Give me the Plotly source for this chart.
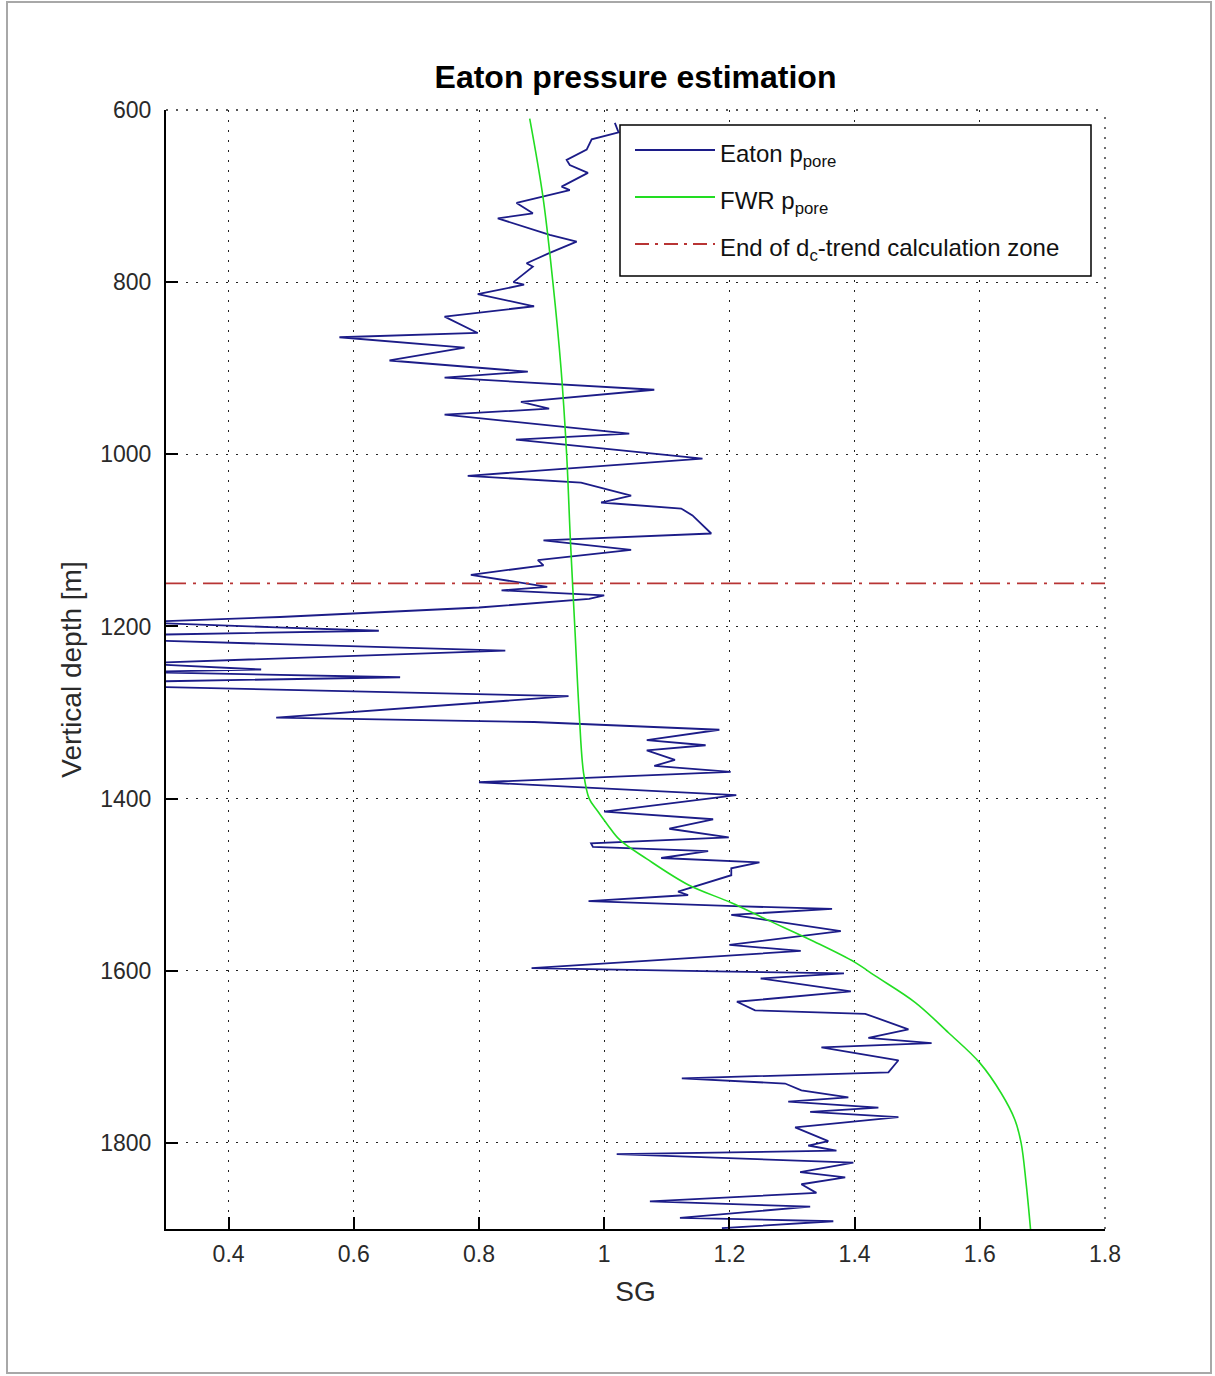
import plotly.graph_objects as go

# ---------------- data ----------------
eaton_depth = [615, 626, 634, 646, 658, 664, 673, 689, 693, 701, 708, 720, 726, 745, 753, 766, 778, 782, 800, 803,
               814, 828, 840, 859, 864, 876, 891, 904, 911, 925, 939, 947, 954, 976, 983, 1005, 1025, 1033, 1048,
               1056, 1063, 1071, 1092, 1100, 1111, 1123, 1129, 1140, 1154, 1158, 1164, 1168, 1178, 1189, 1195,
               1201, 1205, 1210, 1216, 1228, 1243, 1250, 1253, 1259, 1264, 1270, 1281, 1306, 1311, 1320, 1332,
               1338, 1344, 1355, 1362, 1369, 1381, 1396, 1415, 1424, 1435, 1445, 1452, 1456, 1461, 1469, 1474,
               1481, 1489, 1508, 1512, 1519, 1525, 1528, 1535, 1554, 1570, 1577, 1597, 1601, 1603, 1609, 1624,
               1636, 1646, 1650, 1668, 1678, 1684, 1689, 1704, 1718, 1725, 1731, 1739, 1747, 1752, 1759, 1764,
               1770, 1782, 1798, 1803, 1809, 1813, 1823, 1834, 1840, 1848, 1858, 1868, 1874, 1887, 1891, 1899]
eaton_sg = [1.017, 1.023, 0.980, 0.972, 0.940, 0.945, 0.974, 0.932, 0.945, 0.902, 0.860, 0.886, 0.830, 0.913, 0.956,
            0.913, 0.876, 0.886, 0.855, 0.872,
            0.798, 0.888, 0.745, 0.798, 0.577, 0.777, 0.657, 0.878, 0.745, 1.080, 0.867, 0.912, 0.745, 1.040, 0.859,
            1.157, 0.782, 0.963, 1.043,
            0.995, 1.123, 1.141, 1.171, 0.903, 1.043, 0.894, 0.903, 0.787, 0.909, 0.836, 1.000, 0.976, 0.800,
            0.482, 0.250,
            0.476, 0.640, 0.250, 0.260, 0.842, 0.250, 0.452, 0.250, 0.674, 0.270, 0.270, 0.943, 0.476, 0.888,
            1.184, 1.068,
            1.162, 1.068, 1.113, 1.080, 1.202, 0.800, 1.211, 1.000, 1.174, 1.104, 1.199, 0.979, 0.982, 1.166,
            1.091, 1.248,
            1.203, 1.203, 1.118, 1.134, 0.975, 1.208, 1.364, 1.203, 1.378, 1.200, 1.314, 0.884, 1.203, 1.383,
            1.250, 1.394,
            1.212, 1.241, 1.417, 1.486, 1.422, 1.523, 1.347, 1.470, 1.454, 1.124, 1.289, 1.315, 1.390, 1.294,
            1.438, 1.329,
            1.470, 1.305, 1.358, 1.326, 1.371, 1.020, 1.398, 1.313, 1.385, 1.315, 1.339, 1.073, 1.329, 1.121,
            1.366, 1.188]

fwr_depth = [610, 700, 800, 900, 1000, 1100, 1200, 1300, 1370, 1400, 1415, 1430, 1448, 1470, 1500, 1521, 1540,
             1566, 1590, 1606, 1637, 1672, 1707, 1742, 1773, 1800, 1847, 1900]
fwr_sg = [0.881, 0.902, 0.918, 0.931, 0.940, 0.946, 0.953, 0.960, 0.967, 0.976, 0.990, 1.005, 1.025, 1.068, 1.134,
          1.203, 1.258, 1.335, 1.400, 1.433, 1.497, 1.550, 1.600, 1.634, 1.656, 1.666, 1.674, 1.681]

dc_trend_end_depth = 1150
sg_range = [0.3, 1.8]
depth_range = [600, 1900]

x_ticks = [0.4, 0.6, 0.8, 1.0, 1.2, 1.4, 1.6, 1.8]
x_tick_labels = ["0.4", "0.6", "0.8", "1", "1.2", "1.4", "1.6", "1.8"]
y_ticks = [600, 800, 1000, 1200, 1400, 1600, 1800]
y_tick_labels = ["600", "800", "1000", "1200", "1400", "1600", "1800"]

legend_labels = ["Eaton p<sub>pore</sub>", "FWR p<sub>pore</sub>", "End of d<sub>c</sub>-trend calculation zone"]

# ---------------- styles ----------------
FONT = "Liberation Sans, Arial, Helvetica, sans-serif"
BLUE = "#1c1c88"
GREEN = "#22dd22"
RED = "#b83434"
RED_DASH = "20px,7px,3px,7px"

W, H = 1215, 1376
L, R, T, B = 166, 110, 110, 147
PW, PH = W - L - R, H - T - B


def px_x(p):
    return (p - L) / PW


def px_y(p):
    return (H - B - p) / PH


fig = go.Figure()
fig.add_trace(go.Scatter(x=eaton_sg, y=eaton_depth, mode="lines", name=legend_labels[0],
                         line=dict(color=BLUE, width=1.8), showlegend=False))
fig.add_trace(go.Scatter(x=fwr_sg, y=fwr_depth, mode="lines", name=legend_labels[1],
                         line=dict(color=GREEN, width=1.6, shape="spline"), showlegend=False))
fig.add_trace(go.Scatter(x=sg_range, y=[dc_trend_end_depth, dc_trend_end_depth], mode="lines",
                         name=legend_labels[2], line=dict(color=RED, width=1.8, dash=RED_DASH),
                         showlegend=False))

grid = dict(showgrid=True, gridcolor="#222222", gridwidth=1.3, griddash="2px,8px")

fig.update_xaxes(range=sg_range, tickvals=x_ticks, ticktext=x_tick_labels, ticks="inside", ticklen=12,
                 tickwidth=1.5, tickcolor="black", showline=True, linecolor="black", linewidth=2,
                 zeroline=False, tickfont=dict(family=FONT, size=23, color="#2a2a2a"), ticklabelstandoff=3,
                 title=dict(text="SG", font=dict(family=FONT, size=28, color="#2a2a2a"), standoff=16),
                 **grid)
fig.update_yaxes(range=depth_range[::-1], tickvals=y_ticks, ticktext=y_tick_labels, ticks="inside", ticklen=12,
                 tickwidth=1.5, tickcolor="black", showline=True, linecolor="black", linewidth=2,
                 zeroline=False, tickfont=dict(family=FONT, size=23, color="#2a2a2a"), ticklabelstandoff=8,
                 title=dict(text="Vertical depth [m]", font=dict(family=FONT, size=28, color="#2a2a2a"),
                            standoff=10),
                 **grid)

shapes = []
annotations = []
# top and right dotted grid lines at the box edges (MATLAB grid at axis limits)
shapes.append(dict(type="line", xref="paper", yref="paper", x0=0, x1=1, y0=1, y1=1,
                   line=dict(color="#222222", width=1.3, dash="2px,8px")))
shapes.append(dict(type="line", xref="paper", yref="paper", x0=1, x1=1, y0=0, y1=1,
                   line=dict(color="#222222", width=1.3, dash="2px,8px")))
# outer figure frame
shapes.append(dict(type="rect", xref="paper", yref="paper", x0=px_x(7), x1=px_x(1211), y0=px_y(1373), y1=px_y(2),
                   line=dict(color="#a8a8a8", width=2), layer="below"))
# legend box
shapes.append(dict(type="rect", xref="paper", yref="paper", x0=px_x(620), x1=px_x(1091), y0=px_y(276),
                   y1=px_y(125), line=dict(color="black", width=1.5), fillcolor="white", layer="above"))
legend_rows = [150, 197, 244]
legend_styles = [dict(color=BLUE, width=1.8), dict(color=GREEN, width=1.8),
                 dict(color=RED, width=1.8, dash="14px,6px,3px,6px")]
for lab, yy, st in zip(legend_labels, legend_rows, legend_styles):
    shapes.append(dict(type="line", xref="paper", yref="paper", x0=px_x(635), x1=px_x(715), y0=px_y(yy),
                       y1=px_y(yy), line=st, layer="above"))
    annotations.append(dict(xref="paper", yref="paper", x=px_x(718), y=px_y(yy + 5), text=lab, showarrow=False,
                            xanchor="left", yanchor="middle", font=dict(family=FONT, size=24, color="#111111")))

fig.update_layout(
    width=W, height=H,
    margin=dict(l=L, r=R, t=T, b=B, pad=0),
    paper_bgcolor="white", plot_bgcolor="white",
    title=dict(text="<b>Eaton pressure estimation</b>", x=(L + PW / 2) / W, xanchor="center",
               y=1 - 77 / H, yanchor="middle", yref="container",
               font=dict(family=FONT, size=32, color="black")),
    showlegend=False,
    shapes=shapes, annotations=annotations,
)

fig.write_html("out.html")
